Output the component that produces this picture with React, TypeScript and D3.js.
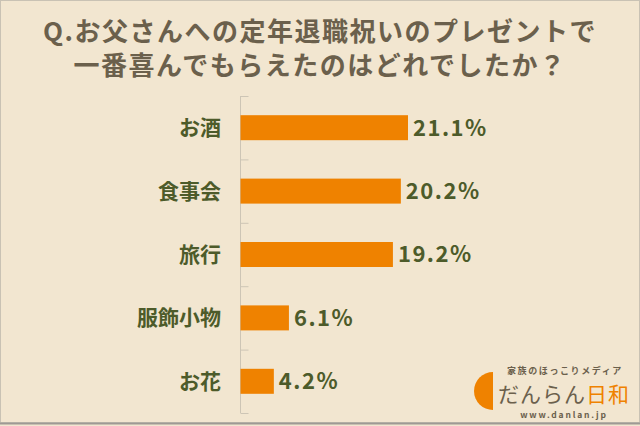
import React from "react";
import * as d3 from "d3";

const categories = ["お酒", "食事会", "旅行", "服飾小物", "お花"];
const values = [21.1, 20.2, 19.2, 6.1, 4.2];
const valueLabels = ["21.1%", "20.2%", "19.2%", "6.1%", "4.2%"];
const titleLines = ["Q.お父さんへの定年退職祝いのプレゼントで", "一番喜んでもらえたのはどれでしたか？"];

const W = 640;
const H = 426;
const FONT = "'Noto Sans CJK JP', 'Noto Sans', sans-serif";

export default function App() {
  const x0 = 240.5;
  const x = d3.scaleLinear().domain([0, 21.1]).range([x0, 408]);
  const yOuter = d3.scaleBand<string>().domain(categories).range([96, 413]);
  const green = "#4d5b2a";
  const brown = "#6b604c";
  const orange = "#ef8200";

  return (
    <svg width={W} height={H} style={{ position: "absolute", left: 0, top: 0, display: "block" }}>
      <rect x={0} y={0} width={W} height={H} fill="#f2e6d0" />
      <rect x={0.5} y={0.5} width={W - 1} height={H - 4} fill="none" stroke="#c9c2b4" strokeWidth={1} />
      <line x1={0} x2={W} y1={H - 2.5} y2={H - 2.5} stroke="#9e9a94" strokeWidth={2} />
      {titleLines.map((t, i) => (
        <text key={i} x={320} y={41 + i * 34} textAnchor="middle" fontFamily={FONT} fontWeight={700} fontSize={26} fill={brown} letterSpacing={1.5}>
          {t}
        </text>
      ))}
      <line x1={x0} x2={x0} y1={96} y2={413} stroke="#cdc5b5" strokeWidth={1} />
      {[...categories.map((c) => yOuter(c)!), 413].map((t, i) => (
        <line key={i} x1={x0} x2={x0 + 8} y1={t + 0.5} y2={t + 0.5} stroke="#cdc5b5" strokeWidth={1} />
      ))}
      {categories.map((c, i) => {
        const cy = yOuter(c)! + yOuter.bandwidth() / 2;
        return (
          <g key={c}>
            <rect x={x0} y={cy - 12.5} width={x(values[i]) - x0} height={25} fill={orange} />
            <text x={221} y={cy} dy="0.36em" textAnchor="end" fontFamily={FONT} fontWeight={700} fontSize={21} fill={green}>
              {c}
            </text>
            <text x={x(values[i]) + 5} y={cy} dy="0.36em" fontFamily={FONT} fontWeight={700} fontSize={22} fill={green} letterSpacing={1.5}>
              {valueLabels[i]}
            </text>
          </g>
        );
      })}
      <path d="M493,372 A19,19 0 0,0 493,410 Z" fill={orange} />
      <text x={565} y={374} textAnchor="middle" fontFamily={FONT} fontWeight={700} fontSize={9} fill={brown} letterSpacing={1.6}>
        家族のほっこりメディア
      </text>
      <text x={498} y={402} fontFamily={FONT} fontWeight={400} fontSize={21} fill={brown} letterSpacing={1}>
        だんらん<tspan fill={orange}>日和</tspan>
      </text>
      <text x={564} y={418} textAnchor="middle" fontFamily={FONT} fontWeight={700} fontSize={8.5} fill={brown} letterSpacing={1.8}>
        www.danlan.jp
      </text>
    </svg>
  );
}
